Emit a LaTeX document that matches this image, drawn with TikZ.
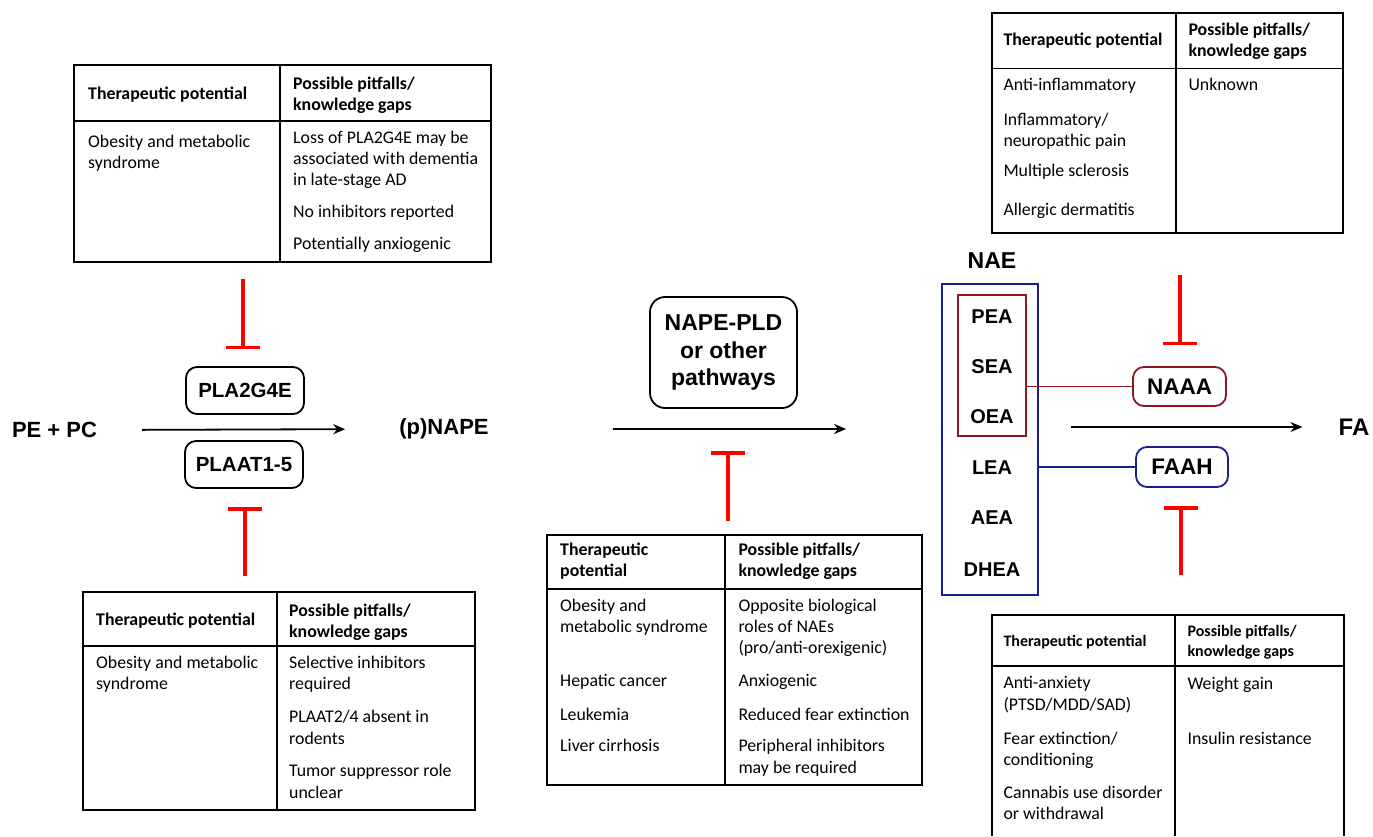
\documentclass[tikz,border=0pt]{standalone}
\usepackage{fontspec}
\setmainfont{Carlito}
\newfontfamily\arialfont{Liberation Sans}
\usetikzlibrary{arrows.meta}
\definecolor{rougefonce}{RGB}{140,24,36}
\definecolor{bleufonce}{RGB}{28,30,140}

\begin{document}
\begin{tikzpicture}[x=1pt,y=-1pt]
	\tikzstyle{cadre}=[line width=1.3pt]
	% multi-ligne : le point donne la ligne de base de la derniere ligne
	\tikzstyle{entete}=[anchor=base west, inner sep=0pt, align=left, font=\bfseries\fontsize{17.8}{21.3}\selectfont]
	\tikzstyle{petit_entete}=[anchor=base west, inner sep=0pt, align=left, font=\bfseries\fontsize{16}{20}\selectfont]
	\tikzstyle{cellule}=[anchor=base west, inner sep=0pt, align=left, font=\fontsize{17.8}{21.3}\selectfont]
	\tikzstyle{molecule}=[inner sep=0pt, font=\arialfont\bfseries\fontsize{22}{26}\selectfont]
	\tikzstyle{ethanolamide}=[inner sep=0pt, font=\arialfont\bfseries\fontsize{20}{24}\selectfont]
	\tikzstyle{enzyme}=[draw, line width=1.8pt, rounded corners=11pt, font=\arialfont\bfseries\fontsize{20.5}{24}\selectfont, minimum width=118pt, minimum height=47pt]
	\tikzstyle{fleche}=[line width=1.8pt, -{Stealth[length=12pt,width=10pt]}]
	\tikzstyle{inhibe}=[red, line width=3.5pt, -{Bar[width=34pt]}]
	\useasboundingbox (0,0) rectangle (1373,836);

	% PE + PC -> (p)NAPE
	\node[molecule] (pepc) at (54.5,430) {PE + PC};
	\node[molecule] (nape) at (444,429) {(p)NAPE};
	\node[enzyme] (pla2) at (245,390.5) {PLA2G4E};
	\node[enzyme] (plaat) at (244,464.5) {PLAAT1-5};
	\draw[fleche, shorten <=45pt, shorten >=54pt] (pepc.east) -- (nape.west);

	% (p)NAPE -> NAE
	\node[enzyme, minimum width=147pt, minimum height=111pt, rounded corners=15pt, align=center, font=\arialfont\bfseries\fontsize{23}{27.5}\selectfont] (pld) at (723.5,352.5) {NAPE-PLD\\or other\\pathways};
	\node[draw=bleufonce, line width=1.8pt, minimum width=96pt, minimum height=311pt] (naebox) at (990,439.5) {};
	\node[draw=rougefonce, line width=1.8pt, minimum width=68pt, minimum height=141pt] (naaabox) at (992,365.5) {};
	\draw[fleche, shorten <=124pt, shorten >=95pt] (nape.east) -- (nape.east -| naebox.west);

	% NAE
	\node[molecule, font=\arialfont\bfseries\fontsize{23}{27}\selectfont] (nae) at (992,261) {NAE};
	\node[ethanolamide] (pea) at (992,317) {PEA};
	\node[ethanolamide] (sea) at (992,367) {SEA};
	\node[ethanolamide] (oea) at (992,417) {OEA};
	\node[ethanolamide] (lea) at (992,468) {LEA};
	\node[ethanolamide] (aea) at (992,518) {AEA};
	\node[ethanolamide] (dhea) at (992,570) {DHEA};

	% NAE -> FA
	\node[molecule, font=\arialfont\bfseries\fontsize{24}{28}\selectfont] (fa) at (1354,427) {FA};
	\node[enzyme, draw=rougefonce, minimum width=93pt, minimum height=39pt, font=\arialfont\bfseries\fontsize{22.5}{26}\selectfont] (naaa) at (1179.5,386.5) {NAAA};
	\node[enzyme, draw=bleufonce, minimum width=92pt, minimum height=40pt, font=\arialfont\bfseries\fontsize{22.5}{26}\selectfont] (faah) at (1182,467) {FAAH};
	\draw[fleche, shorten <=32pt, shorten >=36pt] (naebox.east |- fa.west) -- (fa.west);
	\draw[rougefonce, line width=1.8pt] (naaa.west -| naaabox.east) -- (naaa.west);
	\draw[bleufonce, line width=1.8pt] (faah.west -| naebox.east) -- (faah.west);

	% inhibitions
	\coordinate (i1a) at (243,279); \coordinate (i1b) at (243,349);
	\coordinate (i2a) at (245,576); \coordinate (i2b) at (245,507);
	\coordinate (i3a) at (728,521); \coordinate (i3b) at (728,451);
	\coordinate (i4a) at (1180,275); \coordinate (i4b) at (1180,345);
	\coordinate (i5a) at (1181,575); \coordinate (i5b) at (1181,506);
	\draw[inhibe] (i1a) -- (i1b);
	\draw[inhibe] (i2a) -- (i2b);
	\draw[inhibe] (i3a) -- (i3b);
	\draw[inhibe] (i4a) -- (i4b);
	\draw[inhibe] (i5a) -- (i5b);

	% tableau PLA2G4E
	\draw[cadre] (74,65) rectangle (491,262);
	\draw[cadre] (280,65) -- (280,262);
	\draw[cadre] (74,121) -- (491,121);
	\node[entete] (t1tp) at (88,99.3) {Therapeutic potential};
	\node[entete] (t1pg) at (293,110.6) {Possible pitfalls/\\knowledge gaps};
	\node[cellule] (t1a) at (88,168.8) {Obesity and metabolic\\syndrome};
	\node[cellule] (t1b) at (293,185.6) {Loss of PLA2G4E may be\\associated with dementia\\in late-stage AD};
	\node[cellule] (t1c) at (293,217) {No inhibitors reported};
	\node[cellule] (t1d) at (293,249.5) {Potentially anxiogenic};

	% tableau PLAAT
	\draw[cadre] (83,592) rectangle (475,810);
	\draw[cadre] (277,592) -- (277,810);
	\draw[cadre] (83,646) -- (475,646);
	\node[entete] (t2tp) at (96,625) {Therapeutic potential};
	\node[entete] (t2pg) at (289,637.5) {Possible pitfalls/\\knowledge gaps};
	\node[cellule] (t2a) at (96,689.6) {Obesity and metabolic\\syndrome};
	\node[cellule] (t2b) at (289,689.6) {Selective inhibitors\\required};
	\node[cellule] (t2c) at (289,744) {PLAAT2/4 absent in\\rodents};
	\node[cellule] (t2d) at (289,798) {Tumor suppressor role\\unclear};

	% tableau NAPE-PLD
	\draw[cadre] (547,535) rectangle (922,785);
	\draw[cadre] (725,535) -- (725,785);
	\draw[cadre] (547,589) -- (922,589);
	\node[entete] (t3tp) at (560,576.8) {Therapeutic\\potential};
	\node[entete] (t3pg) at (738.3,576.8) {Possible pitfalls/\\knowledge gaps};
	\node[cellule] (t3a) at (560,632.6) {Obesity and\\metabolic syndrome};
	\node[cellule] (t3b) at (738.3,653.9) {Opposite biological\\roles of NAEs\\(pro/anti-orexigenic)};
	\node[cellule] (t3c) at (560,686.7) {Hepatic cancer};
	\node[cellule] (t3d) at (738.3,686.7) {Anxiogenic};
	\node[cellule] (t3e) at (560,720) {Leukemia};
	\node[cellule] (t3f) at (738.3,720) {Reduced fear extinction};
	\node[cellule] (t3g) at (560,751.7) {Liver cirrhosis};
	\node[cellule] (t3h) at (738.3,773) {Peripheral inhibitors\\may be required};

	% tableau NAAA
	\draw[cadre] (992,13) rectangle (1343,233);
	\draw[cadre] (1176,13) -- (1176,233);
	\draw[cadre] (992,68.3) -- (1343,68.3);
	\node[entete] (t4tp) at (1003.3,45) {Therapeutic potential};
	\node[entete] (t4pg) at (1188.3,56.3) {Possible pitfalls/\\knowledge gaps};
	\node[cellule] (t4a) at (1003.3,90) {Anti-inflammatory};
	\node[cellule] (t4b) at (1188.3,90) {Unknown};
	\node[cellule] (t4c) at (1003.3,146.3) {Inflammatory/\\neuropathic pain};
	\node[cellule] (t4d) at (1003.3,176.7) {Multiple sclerosis};
	\node[cellule] (t4e) at (1003.3,215) {Allergic dermatitis};

	% tableau FAAH (coupe en bas)
	\draw[cadre] (992,836) -- (992,615) -- (1344,615) -- (1344,836);
	\draw[cadre] (1175,615) -- (1175,836);
	\draw[cadre] (992,666) -- (1344,666);
	\node[petit_entete] (t5tp) at (1003.3,646.7) {Therapeutic potential};
	\node[petit_entete] (t5pg) at (1187.3,656.7) {Possible pitfalls/\\knowledge gaps};
	\node[cellule] (t5a) at (1003.3,710) {Anti-anxiety\\(PTSD/MDD/SAD)};
	\node[cellule] (t5b) at (1187.3,689.3) {Weight gain};
	\node[cellule] (t5c) at (1003.3,765.3) {Fear extinction/\\conditioning};
	\node[cellule] (t5d) at (1187.3,744) {Insulin resistance};
	\node[cellule] (t5e) at (1003.3,819.6) {Cannabis use disorder\\or withdrawal};
\end{tikzpicture}
\end{document}
